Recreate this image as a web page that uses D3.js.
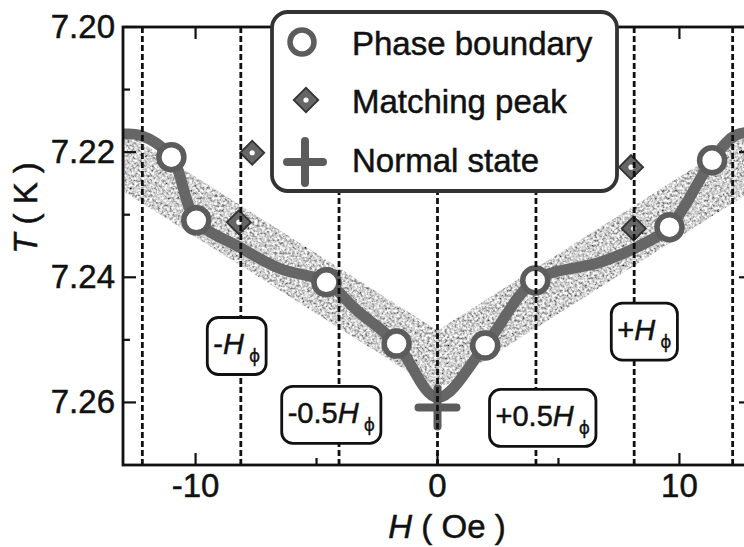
<!DOCTYPE html>
<html>
<head>
<meta charset="utf-8">
<script src="https://cdn.jsdelivr.net/npm/d3@7"></script>
<style>
  body { margin: 0; background: #fff; }
  svg { display: block; }
  text { font-family: "Liberation Sans", Arial, Helvetica, sans-serif; fill: #111; stroke: #111; stroke-width: 0.5px; }
</style>
</head>
<body>
<script>
// Phase boundary points (circles)
const phaseH = [-11.0, -9.97, -4.59, -1.69, 1.97, 4.04, 9.59, 11.35];
const phaseT = [7.2208, 7.2309, 7.2408, 7.2506, 7.2509, 7.2405, 7.2320, 7.2213];

// Matching peaks (diamonds)
const peakH = [-7.66, -8.21, 8.0, 8.11];
const peakT = [7.2201, 7.2312, 7.2224, 7.2322];

// Normal state (cross)
const normalH = [0];
const normalT = [7.2608];

// Guide line through the phase boundary
const guideH = [-13.4, -12.3, -11.0, -9.97, -8.18, -6.52, -4.59, -3.33, -1.69, 0, 1.97, 4.04, 6.73, 8.39, 9.59, 11.35, 12.32, 13.4];
const guideT = [7.2173, 7.2173, 7.2208, 7.2309, 7.2352, 7.2386, 7.2408, 7.2453, 7.2506, 7.2592, 7.2509, 7.2405, 7.2376, 7.2349, 7.2320, 7.2213, 7.2173, 7.2168];

// Shaded V-shaped band
const bandUpperH = [-13, 0, 13];
const bandUpperT = [7.2166, 7.2485, 7.2166];
const bandLowerH = [-13, 0, 13];
const bandLowerT = [7.2262, 7.2581, 7.2262];

// Vertical reference lines at multiples of H_phi
const fieldLines = [-12.2, -8.13, -4.07, 0, 4.07, 8.13, 12.2];

// Field labels
const labelPrefix = ["-", "-0.5", "+0.5", "+"];
const labelH = [-8.30, -4.39, 4.35, 8.55];
const labelT = [7.2509, 7.2619, 7.2624, 7.2486];

// Axis ticks
const xTicks = [-10, 0, 10];
const xMinor = [-5, 5];
const yTicks = [7.20, 7.22, 7.24, 7.26];
const yMinor = [7.21, 7.23, 7.25];

const legendNames = ["Phase boundary", "Matching peak", "Normal state"];

const W = 744, H = 547;
const x = d3.scaleLinear().domain([-13, 13]).range([123, 752]);
const y = d3.scaleLinear().domain([7.20, 7.27]).range([27, 465]);

const svg = d3.select("body").append("svg").attr("width", W).attr("height", H);
const defs = svg.append("defs");

defs.append("clipPath").attr("id", "plot-clip")
  .append("rect").attr("x", x(-13)).attr("y", y(7.20))
  .attr("width", x(13) - x(-13)).attr("height", y(7.27) - y(7.20));

// Speckled grey texture for the band
const grain = defs.append("filter").attr("id", "grain")
  .attr("x", 0).attr("y", 0).attr("width", 1).attr("height", 1);
grain.append("feTurbulence").attr("type", "fractalNoise")
  .attr("baseFrequency", 0.4).attr("numOctaves", 2).attr("seed", 7).attr("result", "noise");
grain.append("feColorMatrix").attr("in", "noise").attr("type", "matrix")
  .attr("values", "1.7 0 0 0 -0.22  1.7 0 0 0 -0.22  1.7 0 0 0 -0.22  0 0 0 0 1")
  .attr("result", "gray");
grain.append("feComposite").attr("in", "gray").attr("in2", "SourceGraphic").attr("operator", "in");

const plot = svg.append("g").attr("clip-path", "url(#plot-clip)");

// Band
const bandPts = bandUpperH.map((h, i) => [h, bandUpperT[i]])
  .concat(bandLowerH.map((h, i) => [h, bandLowerT[i]]).reverse());
plot.append("path")
  .attr("d", d3.line().x(d => x(d[0])).y(d => y(d[1]))(bandPts) + "Z")
  .attr("fill", "#aaa")
  .attr("filter", "url(#grain)");

// Guide line
const guidePts = guideH.map((h, i) => [h, guideT[i]]);
plot.append("path")
  .attr("d", d3.line().x(d => x(d[0])).y(d => y(d[1])).curve(d3.curveCatmullRom.alpha(0.5))(guidePts))
  .attr("fill", "none")
  .attr("stroke", "#666")
  .attr("stroke-width", 11)
  .attr("stroke-linejoin", "round");

// Marker helpers
function drawCircle(g, cx, cy, r) {
  g.append("circle").attr("cx", cx).attr("cy", cy).attr("r", r)
    .attr("fill", "#fff").attr("stroke", "#5c5c5c").attr("stroke-width", 5.5);
}
function drawDiamond(g, cx, cy, size) {
  g.append("path")
    .attr("d", d3.symbol().type(d3.symbolSquare).size(size)())
    .attr("transform", `translate(${cx},${cy}) rotate(45)`)
    .attr("fill", "#666").attr("stroke", "#333").attr("stroke-width", 1.8);
  g.append("circle").attr("cx", cx).attr("cy", cy).attr("r", 2.6).attr("fill", "#fff");
}
function drawCross(g, cx, cy, hx, hy) {
  g.append("path")
    .attr("d", `M${cx - hx},${cy}H${cx + hx}M${cx},${cy - hy}V${cy + hy}`)
    .attr("stroke", "#5c5c5c").attr("stroke-width", 8).attr("stroke-linecap", "round");
}

const marks = svg.append("g");
peakH.forEach((h, i) => drawDiamond(marks, x(h), y(peakT[i]), 290));
normalH.forEach((h, i) => drawCross(marks, x(h), y(normalT[i]), 19, 19));
phaseH.forEach((h, i) => drawCircle(marks, x(h), y(phaseT[i]), 12.5));

// Dashed reference lines
svg.append("g").selectAll("line").data(fieldLines).join("line")
  .attr("x1", d => x(d)).attr("x2", d => x(d))
  .attr("y1", y(7.20)).attr("y2", y(7.27))
  .attr("stroke", "#111").attr("stroke-width", 2.8)
  .attr("stroke-dasharray", "6,3");

// Frame
svg.append("rect")
  .attr("x", x(-13)).attr("y", y(7.20))
  .attr("width", x(13) - x(-13)).attr("height", y(7.27) - y(7.20))
  .attr("fill", "none").attr("stroke", "#111").attr("stroke-width", 2.8);

// Inward ticks
const tickG = svg.append("g").attr("stroke", "#111").attr("stroke-width", 2.2);
xTicks.forEach(v => {
  tickG.append("line").attr("x1", x(v)).attr("x2", x(v)).attr("y1", y(7.27)).attr("y2", y(7.27) - 12);
  tickG.append("line").attr("x1", x(v)).attr("x2", x(v)).attr("y1", y(7.20)).attr("y2", y(7.20) + 12);
});
xMinor.forEach(v => {
  tickG.append("line").attr("x1", x(v)).attr("x2", x(v)).attr("y1", y(7.27)).attr("y2", y(7.27) - 7);
  tickG.append("line").attr("x1", x(v)).attr("x2", x(v)).attr("y1", y(7.20)).attr("y2", y(7.20) + 7);
});
yTicks.forEach(v => {
  tickG.append("line").attr("x1", x(-13)).attr("x2", x(-13) + 13).attr("y1", y(v)).attr("y2", y(v));
  tickG.append("line").attr("x1", x(13)).attr("x2", x(13) - 13).attr("y1", y(v)).attr("y2", y(v));
});
yMinor.forEach(v => {
  tickG.append("line").attr("x1", x(-13)).attr("x2", x(-13) + 7).attr("y1", y(v)).attr("y2", y(v));
  tickG.append("line").attr("x1", x(13)).attr("x2", x(13) - 7).attr("y1", y(v)).attr("y2", y(v));
});

// Tick labels
svg.append("g").selectAll("text").data(xTicks).join("text")
  .attr("x", d => x(d)).attr("y", 497)
  .attr("text-anchor", "middle").attr("font-size", 33)
  .text(d => d);
svg.append("g").selectAll("text").data(yTicks).join("text")
  .attr("x", 115).attr("y", d => y(d) + 11)
  .attr("text-anchor", "end").attr("font-size", 33)
  .text(d => d.toFixed(2));

// Axis titles
const xt = svg.append("text").attr("x", 447).attr("y", 538)
  .attr("text-anchor", "middle").attr("font-size", 33);
xt.append("tspan").attr("font-style", "italic").text("H");
xt.append("tspan").text(" ( Oe )");

const yt = svg.append("text")
  .attr("transform", "translate(37,208) rotate(-90)")
  .attr("text-anchor", "middle").attr("font-size", 33);
yt.append("tspan").attr("font-style", "italic").text("T");
yt.append("tspan").text(" ( K )");

// Field labels in rounded boxes
labelPrefix.forEach((p, i) => {
  const g = svg.append("g");
  const cx = x(labelH[i]), cy = y(labelT[i]);
  const t = g.append("text").attr("x", cx).attr("y", cy + 9)
    .attr("text-anchor", "middle").attr("font-size", 29);
  t.append("tspan").text(p);
  t.append("tspan").attr("font-style", "italic").text("H");
  t.append("tspan").attr("font-size", 17).attr("dx", 5).attr("dy", 8)
    .style("font-family", "'DejaVu Sans', sans-serif").attr("stroke-width", 0.3).text("\u03D5");
  const bb = t.node().getBBox();
  g.insert("rect", "text")
    .attr("x", bb.x - 6).attr("y", cy - 28)
    .attr("width", bb.width + 12).attr("height", 57)
    .attr("rx", 11).attr("ry", 11)
    .attr("fill", "#fff").attr("stroke", "#111").attr("stroke-width", 2.8);
});

// Legend
const lg = svg.append("g");
lg.append("rect").attr("x", 272).attr("y", 12).attr("width", 345).attr("height", 179)
  .attr("rx", 16).attr("ry", 16)
  .attr("fill", "#fff").attr("stroke", "#333").attr("stroke-width", 3.8);
drawCircle(lg, 302, 42, 12);
drawDiamond(lg, 306, 100, 300);
drawCross(lg, 305, 162, 18, 21);
lg.selectAll("text.leg").data(legendNames).join("text")
  .attr("class", "leg")
  .attr("x", 352).attr("y", (d, i) => [55, 113, 172][i])
  .attr("font-size", 33)
  .text(d => d);
</script>
</body>
</html>
